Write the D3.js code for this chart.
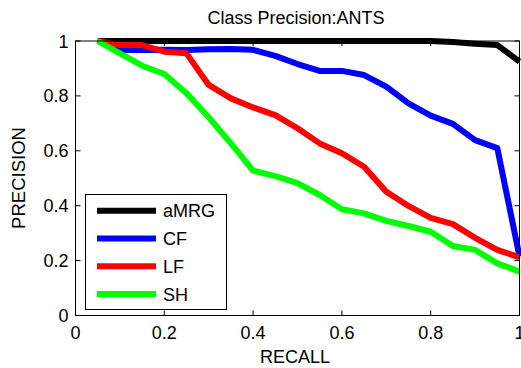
<!DOCTYPE html>
<html><head><meta charset="utf-8">
<script src="https://cdn.jsdelivr.net/npm/d3@7"></script>
<style>body{margin:0;background:#fff}svg{display:block}text{font-family:"Liberation Sans",Arial,sans-serif;fill:#000}</style>
</head><body><svg id="c" width="521" height="368"></svg>
<script>
const recall = [0.05,0.10,0.15,0.20,0.25,0.30,0.35,0.40,0.45,0.50,0.55,0.60,0.65,0.70,0.75,0.80,0.85,0.90,0.95,1.00];
const aMRG = [1,1,1,1,1,1,1,1,1,1,1,1,1,1,1,1,0.996,0.99,0.985,0.925];
const CF   = [1,0.967,0.967,0.968,0.967,0.970,0.971,0.968,0.946,0.916,0.891,0.891,0.876,0.834,0.773,0.728,0.698,0.639,0.610,0.215];
const LF   = [1,0.985,0.985,0.961,0.955,0.840,0.791,0.758,0.730,0.682,0.627,0.591,0.542,0.451,0.399,0.356,0.333,0.283,0.239,0.212];
const SH   = [1,0.955,0.910,0.880,0.810,0.722,0.627,0.528,0.508,0.482,0.439,0.387,0.372,0.345,0.326,0.305,0.253,0.239,0.190,0.160];
const seriesNames = ["aMRG","CF","LF","SH"];
const seriesData = [aMRG, CF, LF, SH];
const seriesColors = ["#000000","#0000ff","#ff0000","#00ff00"];
const xTicks = [0,0.2,0.4,0.6,0.8,1];
const xTickLabels = ["0","0.2","0.4","0.6","0.8","1"];
const yTicks = [0,0.2,0.4,0.6,0.8,1];
const yTickLabels = ["0","0.2","0.4","0.6","0.8","1"];
const title = "Class Precision:ANTS";
const xLabel = "RECALL", yLabel = "PRECISION";

const svg = d3.select("#c");
const L=75.5, R=519.5, T=41, B=315.5;
const x = d3.scaleLinear().domain([0,1]).range([L,R]);
const y = d3.scaleLinear().domain([0,1]).range([B,T]);
const fs = 18;

// lines
const line = d3.line().x((d,i)=>x(recall[i])).y(d=>y(d));
seriesData.forEach((s,k)=>{
  svg.append("path").datum(s).attr("d",line).attr("fill","none")
    .attr("stroke",seriesColors[k]).attr("stroke-width",6).attr("stroke-linejoin","round");
});

// axes (box, ticks inside)
const tl=5;
const ax = svg.append("g").attr("stroke","#000").attr("stroke-width",1).attr("fill","none");
ax.append("rect").attr("x",L).attr("y",T).attr("width",R-L).attr("height",B-T);
xTicks.forEach(t=>{
  ax.append("line").attr("x1",x(t)).attr("x2",x(t)).attr("y1",B).attr("y2",B-tl);
  ax.append("line").attr("x1",x(t)).attr("x2",x(t)).attr("y1",T).attr("y2",T+tl);
});
yTicks.forEach(t=>{
  ax.append("line").attr("x1",L).attr("x2",L+tl).attr("y1",y(t)).attr("y2",y(t));
  ax.append("line").attr("x1",R).attr("x2",R-tl).attr("y1",y(t)).attr("y2",y(t));
});
xTicks.forEach((t,i)=>{
  svg.append("text").attr("x",x(t)).attr("y",339).attr("text-anchor","middle")
    .attr("font-size",fs).text(xTickLabels[i]);
});
yTicks.forEach((t,i)=>{
  svg.append("text").attr("x",L-7).attr("y",y(t)+6.5).attr("text-anchor","end")
    .attr("font-size",fs).text(yTickLabels[i]);
});

// titles
svg.append("text").attr("x",296).attr("y",24).attr("text-anchor","middle").attr("font-size",18).text(title);
svg.append("text").attr("x",295).attr("y",363).attr("text-anchor","middle").attr("font-size",fs).text(xLabel);
svg.append("text").attr("transform","translate(25,178) rotate(-90)").attr("text-anchor","middle").attr("font-size",18.5).text(yLabel);

// legend
const lg = svg.append("g");
lg.append("rect").attr("x",85.5).attr("y",194.5).attr("width",141).attr("height",115)
  .attr("fill","#fff").attr("stroke","#000").attr("stroke-width",1);
seriesNames.forEach((n,k)=>{
  const yy = 210.7 + k*27.8;
  lg.append("line").attr("x1",97).attr("x2",156).attr("y1",yy).attr("y2",yy)
    .attr("stroke",seriesColors[k]).attr("stroke-width",6);
  lg.append("text").attr("x",163).attr("y",yy+6.5).attr("font-size",fs).text(n);
});
</script></body></html>
